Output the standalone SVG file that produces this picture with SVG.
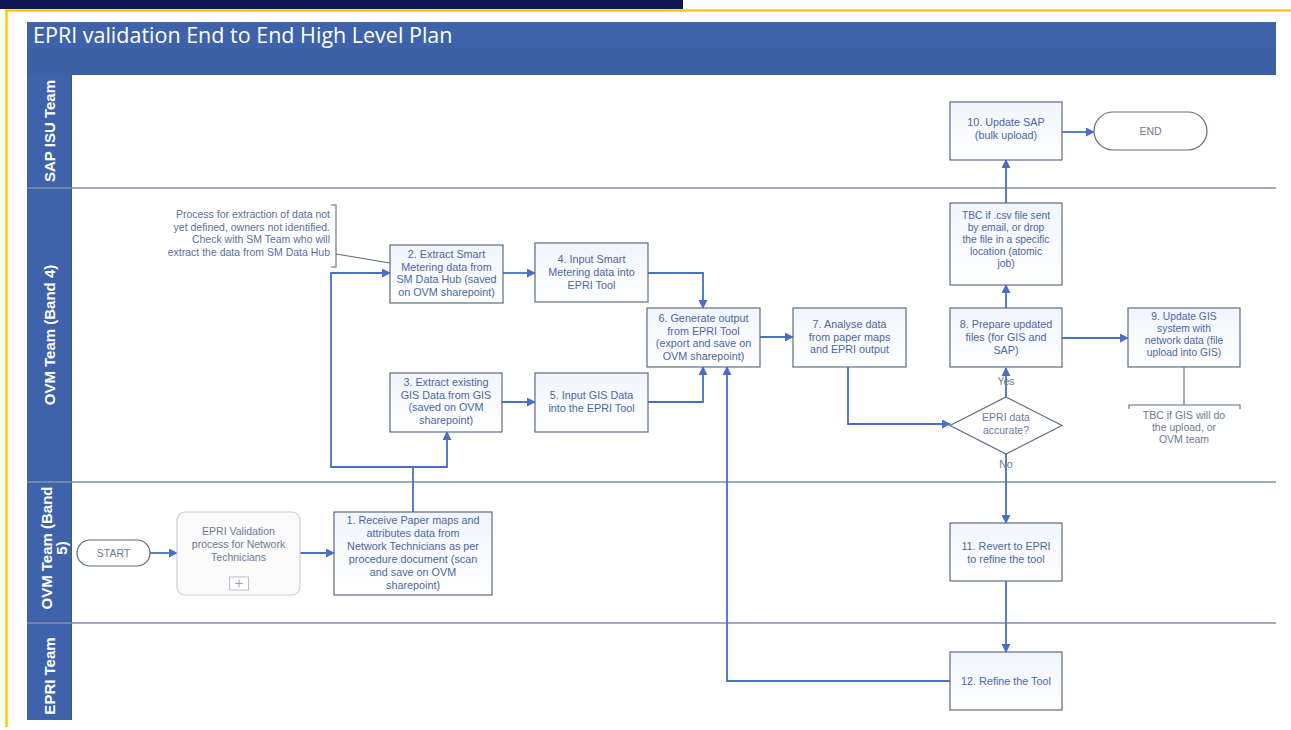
<svg xmlns="http://www.w3.org/2000/svg" width="1291" height="730" viewBox="0 0 1291 730">
<style>
.lane{fill:none;stroke:#8090a8;stroke-width:1.3}
.lbl{font-family:"Liberation Sans",Arial,sans-serif;font-weight:bold;font-size:15px;fill:#ffffff}
.box{fill:url(#bg);stroke:#5f6c82;stroke-width:1.2}
.t{font-family:"Liberation Sans",Arial,sans-serif;font-size:10.8px;fill:#4d67a0;text-anchor:middle}
.s{font-size:10.3px}
.g{font-family:"Liberation Sans",Arial,sans-serif;font-size:10.5px;fill:#6d7a92;text-anchor:middle}
.note{font-family:"Liberation Sans",Arial,sans-serif;font-size:10.5px;fill:#5b6f9c}
.c{fill:none;stroke:#4a6fc2;stroke-width:1.8}
.ann{fill:none;stroke:#5f6b7e;stroke-width:1.1}
</style>
<defs>
<linearGradient id="bg" x1="0" y1="0" x2="0" y2="1">
<stop offset="0" stop-color="#f1f5fc"/>
<stop offset="1" stop-color="#ffffff"/>
</linearGradient>
<marker id="ah" viewBox="0 0 10 10" refX="9" refY="5" markerWidth="5" markerHeight="5" orient="auto" markerUnits="strokeWidth">
<path d="M0,0 L10,5 L0,10 z" fill="#4a6fc2"/>
</marker>
</defs>
<rect width="1291" height="730" fill="#ffffff"/>
<rect x="0" y="0" width="683" height="9" fill="#0e1550"/>
<line x1="5" y1="10.5" x2="1291" y2="10.5" stroke="#ffcc00" stroke-width="2.5"/>
<line x1="6.5" y1="10" x2="6.5" y2="727" stroke="#ffcc00" stroke-width="2.5"/>

<g id="header">
<rect x="27" y="22" width="1249" height="53" fill="#3e63aa"/>
<rect x="27" y="48" width="1249" height="27" fill="#3b60a6"/>
<text x="33" y="43" font-family="'Open Sans','Noto Sans',sans-serif" font-size="21.5" fill="#ffffff">EPRI validation End to End High Level Plan</text>
</g>

<g id="lanes">
<rect x="27" y="75" width="45" height="645" fill="#3e63aa"/>
<line x1="71.5" y1="75" x2="71.5" y2="720" stroke="#35558f" stroke-width="1"/>
<line class="lane" x1="27" y1="188" x2="1276" y2="188"/>
<line class="lane" x1="27" y1="482" x2="1276" y2="482"/>
<line class="lane" x1="27" y1="623" x2="1276" y2="623"/>
<text class="lbl" transform="translate(55,131) rotate(-90)" text-anchor="middle">SAP ISU Team</text>
<text class="lbl" transform="translate(55,335) rotate(-90)" text-anchor="middle">OVM Team (Band 4)</text>
<text class="lbl" transform="translate(52,548) rotate(-90)" text-anchor="middle">OVM Team (Band</text>
<text class="lbl" transform="translate(67,548) rotate(-90)" text-anchor="middle">5)</text>
<text class="lbl" transform="translate(55,676) rotate(-90)" text-anchor="middle">EPRI Team</text>
</g>

<g id="connectors">
<path class="c" d="M150,553 H177" marker-end="url(#ah)"/>
<path class="c" d="M300,553 H334" marker-end="url(#ah)"/>
<path class="c" d="M413,512 V467 H331 V273 H390" marker-end="url(#ah)"/>
<path class="c" d="M413,467 H447 V432" marker-end="url(#ah)"/>
<path class="c" d="M503,273 H535" marker-end="url(#ah)"/>
<path class="c" d="M502,402 H535" marker-end="url(#ah)"/>
<path class="c" d="M648,273 H703 V308" marker-end="url(#ah)"/>
<path class="c" d="M648,402 H703 V367" marker-end="url(#ah)"/>
<path class="c" d="M760,337 H793" marker-end="url(#ah)"/>
<path class="c" d="M848,367 V424 H950" marker-end="url(#ah)"/>
<path class="c" d="M1006,397 V368" marker-end="url(#ah)"/>
<path class="c" d="M1006,308 V285" marker-end="url(#ah)"/>
<path class="c" d="M1006,203 V160" marker-end="url(#ah)"/>
<path class="c" d="M1062,132 H1094" marker-end="url(#ah)"/>
<path class="c" d="M1062,338 H1128" marker-end="url(#ah)"/>
<path class="c" d="M1006,454 V523" marker-end="url(#ah)"/>
<path class="c" d="M1006,581 V652" marker-end="url(#ah)"/>
<path class="c" d="M950,681 H727 V367" marker-end="url(#ah)"/>
<path class="ann" d="M331,205 H336 V267 H331"/>
<path class="ann" d="M336,254 L390,263"/>
<path class="ann" d="M1184,367 V405"/>
<path class="ann" d="M1129,409 V405 H1240 V409"/>
</g>

<g id="note1">
<text class="note" text-anchor="end" x="330" y="218">Process for extraction of data not</text>
<text class="note" text-anchor="end" x="330" y="231">yet defined, owners not identified.</text>
<text class="note" text-anchor="end" x="330" y="243">Check with SM Team who will</text>
<text class="note" text-anchor="end" x="330" y="256">extract the data from SM Data Hub</text>
</g>

<g id="start">
<rect x="77" y="540" width="73" height="26" rx="13" fill="#ffffff" stroke="#5f6c82" stroke-width="1.2"/>
<text class="g" x="113.5" y="557" font-size="10">START</text>
</g>

<g id="subprocess">
<rect x="177" y="512" width="123" height="83" rx="8" fill="#fbfbfc" stroke="#c9ced6" stroke-width="1.2"/>
<text class="g" x="238.5" y="535" font-size="10.8">EPRI Validation</text>
<text class="g" x="238.5" y="548" font-size="10.8">process for Network</text>
<text class="g" x="238.5" y="561" font-size="10.8">Technicians</text>
<rect x="229.5" y="577" width="19" height="13" fill="#ffffff" stroke="#b8bec8" stroke-width="1"/>
<path d="M239,579.5 V587.5 M235,583.5 H243" stroke="#9aa2ae" stroke-width="1"/>
</g>

<g id="n1">
<rect class="box" x="334" y="512" width="158" height="83"/>
<text class="t" x="413" y="524">1. Receive Paper maps and</text>
<text class="t" x="413" y="537">attributes data from</text>
<text class="t" x="413" y="550">Network Technicians as per</text>
<text class="t" x="413" y="563">procedure document (scan</text>
<text class="t" x="413" y="576">and save on OVM</text>
<text class="t" x="413" y="589">sharepoint)</text>
</g>

<g id="n2">
<rect class="box" x="390" y="245" width="113" height="58"/>
<text class="t" x="446.5" y="258">2. Extract Smart</text>
<text class="t" x="446.5" y="270.5">Metering data from</text>
<text class="t" x="446.5" y="283">SM Data Hub (saved</text>
<text class="t" x="446.5" y="295.5">on OVM sharepoint)</text>
</g>

<g id="n3">
<rect class="box" x="390" y="373" width="112" height="59"/>
<text class="t" x="446" y="386">3. Extract existing</text>
<text class="t" x="446" y="398.5">GIS Data from GIS</text>
<text class="t" x="446" y="411">(saved on OVM</text>
<text class="t" x="446" y="423.5">sharepoint)</text>
</g>

<g id="n4">
<rect class="box" x="535" y="243" width="113" height="59"/>
<text class="t" x="591.5" y="263">4. Input Smart</text>
<text class="t" x="591.5" y="276">Metering data into</text>
<text class="t" x="591.5" y="289">EPRI Tool</text>
</g>

<g id="n5">
<rect class="box" x="535" y="373" width="113" height="59"/>
<text class="t" x="591.5" y="399">5. Input GIS Data</text>
<text class="t" x="591.5" y="412">into the EPRI Tool</text>
</g>

<g id="n6">
<rect class="box" x="647" y="308" width="113" height="59"/>
<text class="t" x="703.5" y="322">6. Generate output</text>
<text class="t" x="703.5" y="334.5">from EPRI Tool</text>
<text class="t" x="703.5" y="347">(export and save on</text>
<text class="t" x="703.5" y="359.5">OVM sharepoint)</text>
</g>

<g id="n7">
<rect class="box" x="793" y="308" width="113" height="59"/>
<text class="t" x="849.5" y="328">7. Analyse data</text>
<text class="t" x="849.5" y="340.5">from paper maps</text>
<text class="t" x="849.5" y="353">and EPRI output</text>
</g>

<g id="decision">
<path d="M950,425.5 L1006,397 L1062,425.5 L1006,454 z" fill="#ffffff" stroke="#5f6c82" stroke-width="1.2"/>
<text class="g" x="1006" y="421">EPRI data</text>
<text class="g" x="1006" y="433.5">accurate?</text>
<text class="g" x="1006" y="385">Yes</text>
<text class="g" x="1006" y="468">No</text>
</g>

<g id="n8">
<rect class="box" x="950" y="308" width="112" height="59"/>
<text class="t" x="1006" y="328">8. Prepare updated</text>
<text class="t" x="1006" y="341">files (for GIS and</text>
<text class="t" x="1006" y="354">SAP)</text>
</g>

<g id="n9">
<rect class="box" x="1128" y="308" width="112" height="59"/>
<text class="t s" x="1184" y="320">9. Update GIS</text>
<text class="t s" x="1184" y="332">system with</text>
<text class="t s" x="1184" y="344">network data (file</text>
<text class="t s" x="1184" y="356">upload into GIS)</text>
</g>

<g id="note9">
<text class="g" x="1184" y="419" font-size="10.3">TBC if GIS will do</text>
<text class="g" x="1184" y="431" font-size="10.3">the upload, or</text>
<text class="g" x="1184" y="443" font-size="10.3">OVM team</text>
</g>

<g id="tbc">
<rect class="box" x="950" y="203" width="112" height="82"/>
<text class="t s" x="1006" y="219">TBC if .csv file sent</text>
<text class="t s" x="1006" y="231">by email, or drop</text>
<text class="t s" x="1006" y="243">the file in a specific</text>
<text class="t s" x="1006" y="255">location (atomic</text>
<text class="t s" x="1006" y="267">job)</text>
</g>

<g id="n10">
<rect class="box" x="950" y="102" width="112" height="58"/>
<text class="t" x="1006" y="126">10. Update SAP</text>
<text class="t" x="1006" y="139">(bulk upload)</text>
</g>

<g id="end">
<rect x="1094" y="112" width="113" height="38" rx="19" fill="#ffffff" stroke="#5f6c82" stroke-width="1.2"/>
<text class="g" x="1150.5" y="135" font-size="11">END</text>
</g>

<g id="n11">
<rect class="box" x="950" y="523" width="112" height="58"/>
<text class="t" x="1006" y="550">11. Revert to EPRI</text>
<text class="t" x="1006" y="563">to refine the tool</text>
</g>

<g id="n12">
<rect class="box" x="950" y="652" width="112" height="58"/>
<text class="t" x="1006" y="685">12. Refine the Tool</text>
</g>
</svg>
